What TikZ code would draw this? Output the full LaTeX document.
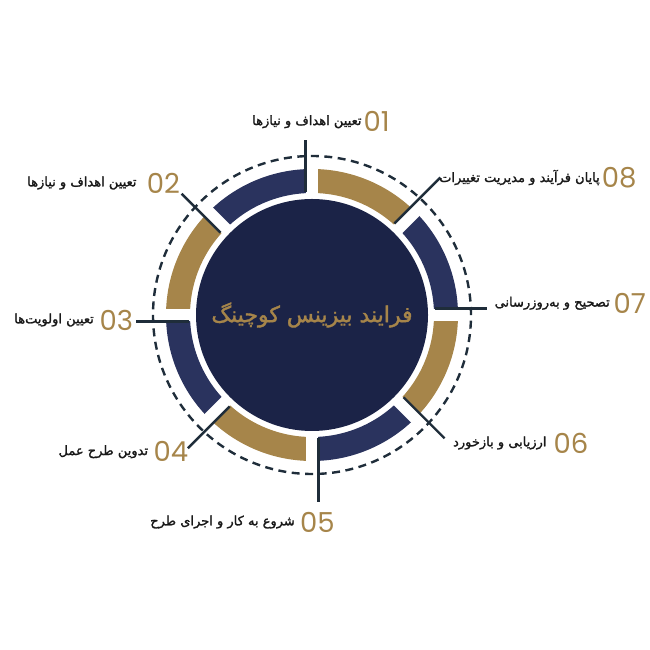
\documentclass[tikz,border=0pt]{standalone}
\usepackage{fontspec}
\setmainfont{Poppins}
\newfontfamily\arabicfont[Script=Arabic,FakeBold=1.6]{DejaVu Sans}
\newfontfamily\numfont{Poppins}
\TeXXeTstate=1
\usetikzlibrary{calc}
\definecolor{navyc}{HTML}{1B2347}
\definecolor{navys}{HTML}{2A335E}
\definecolor{goldc}{HTML}{A6854A}
\definecolor{linec}{HTML}{1F2D3A}
\begin{document}
\begin{tikzpicture}[x=1pt,y=1pt,
 seg/.style={line width=24pt},
 gapline/.style={white,line width=12pt},
 leader/.style={linec,line width=2.4pt},
 dashring/.style={linec,line width=2.4pt,dash pattern=on 8pt off 5.5pt},
 numlbl/.style={anchor=west,inner sep=0pt,text=goldc,font=\numfont\fontsize{27.5}{27.5}\selectfont},
 txtlbl/.style={anchor=east,inner sep=0pt,text=black!90,font=\arabicfont\fontsize{13}{15}\selectfont}]
\useasboundingbox (0,0) rectangle (650,650);
\coordinate (C) at (312,335);
% hub
\node[circle, fill=navyc, minimum size=232pt, inner sep=0pt] (hub) at (C) {};
% dashed ring
\draw[dashring] (C) circle[radius=159];
% ring segments
\foreach \a/\b/\c in {0/45/navys,45/90/goldc,90/135/navys,135/180/goldc,180/225/navys,225/270/goldc,270/315/navys,315/360/goldc}
  \draw[seg,\c] (C) ++(\a:134) arc[start angle=\a, end angle=\b, radius=134];
% gaps
\foreach \a in {0,45,...,315}
  \draw[gapline] (C) ++(\a:119) -- ++(\a:32);
% leader coordinates
\foreach \i/\t/\r in {1/90/175,2/135/178,3/180/176,4/225/182,5/270/187,6/315/181,7/0/175,8/45/188}{
  \coordinate (la\i) at ($(C)+(\t:123)+(\t+90:6.5)$);
  \coordinate (lb\i) at ($(C)+(\t:\r)+(\t+90:6.5)$);
}
\foreach \i in {1,...,8}
  \draw[leader] (la\i) -- (lb\i);
% title
\node[text=goldc, font=\arabicfont\fontsize{22}{26}\selectfont, inner sep=0pt] (title) at (C) {\beginR فرایند بیزینس کوچینگ\endR};
% numbers
\node[numlbl] (n1) at (363.3,528.3) {01};
\node[numlbl] (n2) at (146.7,467) {02};
\node[numlbl] (n3) at (99.3,330) {03};
\node[numlbl] (n4) at (153.3,198.3) {04};
\node[numlbl] (n5) at (300,128) {05};
\node[numlbl] (n6) at (553.3,207) {06};
\node[numlbl] (n7) at (613.3,346.7) {07};
\node[numlbl] (n8) at (601.7,472.5) {08};
% texts
\node[txtlbl] (t1) at (361.7,528.3) {\beginR تعیین اهداف و نیازها\endR};
\node[txtlbl] (t2) at (136.7,467) {\beginR تعیین اهداف و نیازها\endR};
\node[txtlbl] (t3) at (94,330) {\beginR تعیین اولویت‌ها\endR};
\node[txtlbl] (t4) at (148.3,198.3) {\beginR تدوین طرح عمل\endR};
\node[txtlbl] (t5) at (295,128) {\beginR شروع به کار و اجرای طرح\endR};
\node[txtlbl] (t6) at (546.7,207) {\beginR ارزیابی و بازخورد\endR};
\node[txtlbl] (t7) at (610,346.7) {\beginR تصحیح و به‌روزرسانی\endR};
\node[txtlbl] (t8) at (600,472.5) {\beginR پایان فرآیند و مدیریت تغییرات\endR};
\end{tikzpicture}
\end{document}
